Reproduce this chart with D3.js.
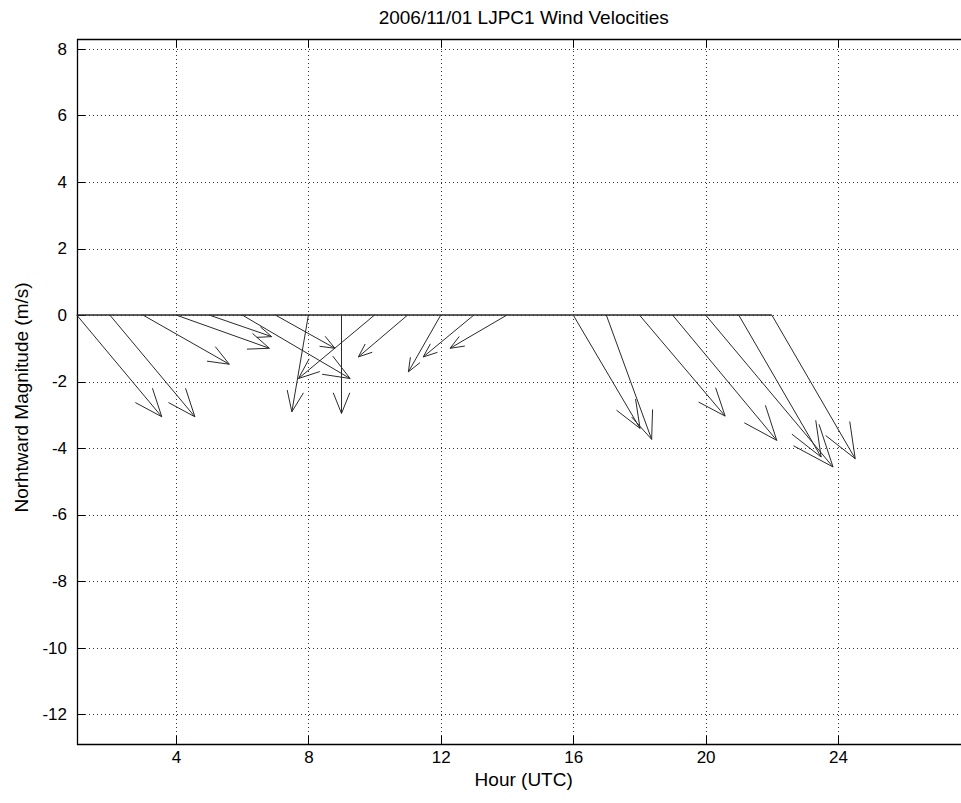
<!DOCTYPE html>
<html>
<head>
<meta charset="utf-8">
<script src="https://cdn.jsdelivr.net/npm/d3@7"></script>
<style>
  html, body { margin: 0; padding: 0; background: #fff; overflow: hidden; }
  svg { display: block; }
  text { font-family: "Liberation Sans", Arial, sans-serif; fill: #000; }
</style>
</head>
<body>
<svg id="chart" width="961" height="803"></svg>
<script>
// ---- data ----
const title = "2006/11/01 LJPC1 Wind Velocities";
const xLabel = "Hour (UTC)";
const yLabel = "Norhtward Magnitude (m/s)";
const hours = [1, 2, 3, 4, 5, 6, 7, 8, 9, 10, 11, 12, 13, 14, 15, 16, 17, 18, 19, 20, 21, 22];
// eastward component (drawn, data units)
const uVals = [2.57, 2.57, 2.61, 2.82, 1.89, 3.26, 1.80, -0.50, 0.00, -2.30, -1.49, -0.98, -1.53, -1.72, null, 2.02, 1.37, 2.59, 3.15, 3.85, 2.49, 2.52];
// northward component (drawn, data units)
const vVals = [-3.06, -3.06, -1.48, -1.00, -0.65, -1.91, -1.00, -2.91, -2.96, -1.91, -1.26, -1.71, -1.26, -1.00, null, -3.41, -3.74, -3.04, -3.77, -4.57, -4.27, -4.32];
const xTicks = [4, 8, 12, 16, 20, 24];
const yTicks = [-12, -10, -8, -6, -4, -2, 0, 2, 4, 6, 8];

// ---- layout ----
const svg = d3.select("#chart");
const L = 77, T = 39, B = 744;
const x = d3.scaleLinear().domain([1, 28]).range([76.7, 970.4]);
const y = d3.scaleLinear().domain([-12.9, 8.3]).range([B, T]);
const R = x(28); // right edge of the axes lies beyond the picture

// grid
const grid = svg.append("g");
grid.selectAll(".gx").data(xTicks).join("line")
  .attr("x1", d => Math.round(x(d)) + 0.5).attr("x2", d => Math.round(x(d)) + 0.5)
  .attr("y1", T).attr("y2", B)
  .attr("stroke", "#333").attr("stroke-width", 1).attr("stroke-dasharray", "1,3");
grid.selectAll(".gy").data(yTicks).join("line")
  .attr("x1", L).attr("x2", R)
  .attr("y1", d => Math.round(y(d)) + 0.5).attr("y2", d => Math.round(y(d)) + 0.5)
  .attr("stroke", "#333").attr("stroke-width", 1).attr("stroke-dasharray", "1,3");

// axes via d3 axis (labels only; ticks drawn inward below)
const fmt = d => String(d);
const xAxis = d3.axisBottom(x).tickValues(xTicks).tickSize(0).tickPadding(7).tickFormat(fmt);
const gx = svg.append("g").attr("transform", `translate(0,${B})`).call(xAxis);
gx.select(".domain").remove();
gx.selectAll("text").attr("font-size", 17).attr("font-family", "Liberation Sans, Arial, sans-serif");

const yAxis = d3.axisLeft(y).tickValues(yTicks).tickSize(0).tickPadding(10).tickFormat(fmt);
const gy = svg.append("g").attr("transform", `translate(${L},0)`).call(yAxis);
gy.select(".domain").remove();
gy.selectAll("text").attr("font-size", 17).attr("font-family", "Liberation Sans, Arial, sans-serif");

// inward tick marks
const tl = 8;
const tk = svg.append("g").attr("stroke", "#000").attr("stroke-width", 1);
tk.selectAll(".tb").data(xTicks).join("line")
  .attr("x1", d => Math.round(x(d)) + 0.5).attr("x2", d => Math.round(x(d)) + 0.5).attr("y1", B).attr("y2", B - tl);
tk.selectAll(".tt").data(xTicks).join("line")
  .attr("x1", d => Math.round(x(d)) + 0.5).attr("x2", d => Math.round(x(d)) + 0.5).attr("y1", T).attr("y2", T + tl);
tk.selectAll(".tl").data(yTicks).join("line")
  .attr("x1", L).attr("x2", L + tl)
  .attr("y1", d => Math.round(y(d)) + 0.5).attr("y2", d => Math.round(y(d)) + 0.5);

// frame: left, top, bottom
const fr = svg.append("g").attr("stroke", "#000").attr("stroke-width", 1.3);
fr.append("line").attr("x1", L + 0.5).attr("x2", L + 0.5).attr("y1", T).attr("y2", B + 1);
fr.append("line").attr("x1", L).attr("x2", R).attr("y1", T + 0.5).attr("y2", T + 0.5);
fr.append("line").attr("x1", L).attr("x2", R).attr("y1", B + 0.5).attr("y2", B + 0.5);

// ---- quiver ----
const data = hours.map((h, i) => ({ h, u: uVals[i], v: vVals[i] }));
const q = svg.append("g").attr("stroke", "#2a2a2a").attr("stroke-width", 1).attr("fill", "none");

// zero baseline through arrow tails
q.append("line")
  .attr("x1", x(d3.min(hours))).attr("x2", x(d3.max(hours)))
  .attr("y1", y(0)).attr("y2", y(0)).attr("stroke-width", 1.3);

const alpha = 0.21, beta = 0.4;
const valid = data.filter(d => d.u !== null && d.v !== null);
q.selectAll("path.arrow").data(valid).join("path")
  .attr("class", "arrow")
  .attr("d", d => {
    const x0 = x(d.h), y0 = y(0);
    const x1 = x(d.h + d.u), y1 = y(d.v);
    const dx = x1 - x0, dy = y1 - y0;
    const b1x = x1 - alpha * (dx + beta * dy), b1y = y1 - alpha * (dy - beta * dx);
    const b2x = x1 - alpha * (dx - beta * dy), b2y = y1 - alpha * (dy + beta * dx);
    return `M${x0},${y0}L${x1},${y1}M${b1x},${b1y}L${x1},${y1}L${b2x},${b2y}`;
  });

// ---- labels ----
const cx = (L + R) / 2;
svg.append("text").attr("x", cx).attr("y", 24).attr("text-anchor", "middle")
  .attr("font-size", 19).text(title);
svg.append("text").attr("x", cx).attr("y", 786).attr("text-anchor", "middle")
  .attr("font-size", 19).text(xLabel);
svg.append("text").attr("transform", `translate(28,${(T + B) / 2 + 6}) rotate(-90)`)
  .attr("text-anchor", "middle").attr("font-size", 19).text(yLabel);
</script>
</body>
</html>
